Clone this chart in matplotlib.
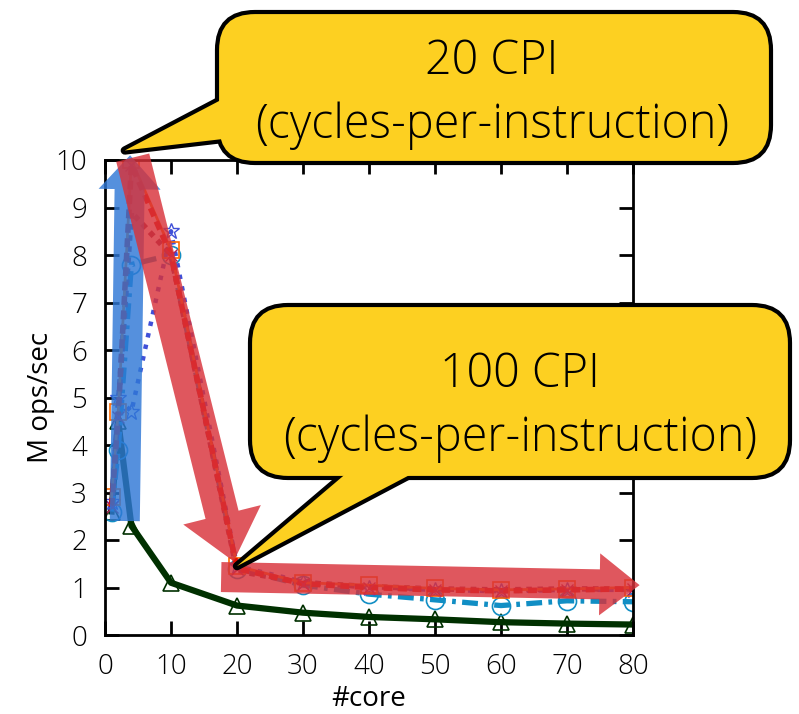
import matplotlib
matplotlib.use("Agg")
import matplotlib.pyplot as plt
from matplotlib.patches import FancyArrow, FancyBboxPatch, Polygon
from matplotlib.transforms import Affine2D

W, H = 799, 714
FONT = "Open Sans"
YELLOW = "#FDD021"

# throughput (M ops/sec) vs number of cores
cores = [1, 2, 4, 10, 20, 30, 40, 50, 60, 70, 80]
tput_green = [2.6, 4.5, 2.3, 1.1, 0.62, 0.47, 0.38, 0.33, 0.27, 0.24, 0.22]
tput_cyan = [2.6, 3.9, 7.8, 8.0, 1.4, 1.05, 0.86, 0.74, 0.62, 0.72, 0.7]
tput_blue = [2.8, 5.0, 4.7, 8.5, 1.45, 1.12, 1.0, 0.95, 0.92, 0.95, 0.95]
tput_maroon = [2.7, 4.8, 8.9, 8.0, 1.35, 1.1, 1.02, 0.97, 0.95, 0.97, 0.97]
tput_orange = [2.9, 4.7, 10.0, 8.1, 1.45, 1.1, 1.05, 0.98, 0.95, 0.97, 1.0]
tput_red = [2.7, 4.6, 9.9, 8.0, 1.4, 1.08, 1.0, 0.95, 0.93, 0.95, 0.97]

xticks = list(range(0, 81, 10))
yticks = list(range(0, 11))

CALLOUT_20 = ["20 CPI", "(cycles-per-instruction)"]
CALLOUT_100 = ["100 CPI", "(cycles-per-instruction)"]

plt.rcParams["font.family"] = [FONT, "DejaVu Sans"]
plt.rcParams["font.weight"] = "light"

fig = plt.figure(figsize=(W / 100, H / 100), dpi=100)
ax = fig.add_axes([105 / W, (H - 635) / H, (633 - 105) / W, (635 - 160) / H])

ax.plot(cores, tput_green, "-", color="#003000", lw=4.5, marker="^", ms=12,
        mfc="none", mec="#003000", mew=1.2)
ax.plot(cores, tput_cyan, color="#118ec4", lw=3.8, dashes=(3, 1.2, 0.7, 1.2),
        marker="o", ms=13, mfc="none", mec="#118ec4", mew=1.2)
ax.plot(cores, tput_blue, ":", color="#4050d8", lw=3.2, marker="*", ms=12,
        mfc="none", mec="#4050d8", mew=1.0)
ax.plot(cores, tput_maroon, color="#8b2d55", lw=4.0, dashes=(1.0, 1.0))
ax.plot(cores, tput_orange, "-", color="#ff6a00", lw=2.0, marker="s", ms=11,
        mfc="none", mec="#ff6a00", mew=1.2)
ax.plot(cores, tput_red, color="#e01000", lw=4.0, dashes=(1.6, 1.0),
        marker="x", ms=9, mec="#b0205a", mew=1.0)

ax.set_xlim(0, 80)
ax.set_ylim(0, 10)
ax.set_xticks(xticks)
ax.set_yticks(yticks)
ax.tick_params(direction="in", length=10, width=2, top=True, right=True,
               labelsize=20, pad=13)
for s in ax.spines.values():
    s.set_linewidth(2)
ax.set_xlabel("#core", fontsize=20, labelpad=3)
ax.set_ylabel("M ops/sec", fontsize=20, labelpad=0)

# pixel transform, top-left origin
PX = Affine2D().scale(1, -1).translate(0, H)


def to_px(x, y):
    dx, dy = ax.transData.transform((x, y))
    return dx, H - dy


def arrow(start, end, color, width, head_w, head_l):
    x0, y0 = to_px(*start)
    x1, y1 = to_px(*end)
    fig.add_artist(FancyArrow(x0, y0, x1 - x0, y1 - y0, width=width,
                              head_width=head_w, head_length=head_l,
                              length_includes_head=True, transform=PX,
                              fc=color, ec="none", alpha=0.82, zorder=3))


arrow((3.0, 2.4), (3.8, 10.1), "#2f78d6", 30, 62, 34)
arrow((4.2, 10.05), (19.5, 1.55), "#d8323a", 34, 80, 48)
arrow((17.6, 1.22), (81.0, 1.05), "#d8323a", 30, 62, 40)


def callout(box, tip, base, lines, center, size):
    x0, y0, x1, y1 = box
    tx, ty = to_px(*tip)
    tail = [base[0], (tx, ty), base[1]]
    fig.add_artist(Polygon(tail, closed=True, transform=PX, fc=YELLOW,
                           ec="black", lw=6, joinstyle="round", zorder=5))
    fig.add_artist(FancyBboxPatch((x0, y0), x1 - x0, y1 - y0,
                                  boxstyle="round,pad=0,rounding_size=38",
                                  transform=PX, fc=YELLOW, ec="black", lw=3,
                                  zorder=6))
    fig.add_artist(Polygon(tail, closed=True, transform=PX, fc=YELLOW,
                           ec="none", zorder=7))
    cx, cy = center
    fig.text(cx / W, 1 - cy / H, "\n".join(lines), ha="center", va="center",
             fontsize=size, linespacing=1.42, zorder=8)


callout((217, 12, 771, 163), (3.0, 10.2), [(240, 90), (240, 137)],
        CALLOUT_20, (492, 94), 33.5)
callout((250, 305, 790, 478), (20.0, 1.45), [(362, 460), (438, 460)],
        CALLOUT_100, (520, 407), 33.5)

fig.savefig("out.png", dpi=100)
